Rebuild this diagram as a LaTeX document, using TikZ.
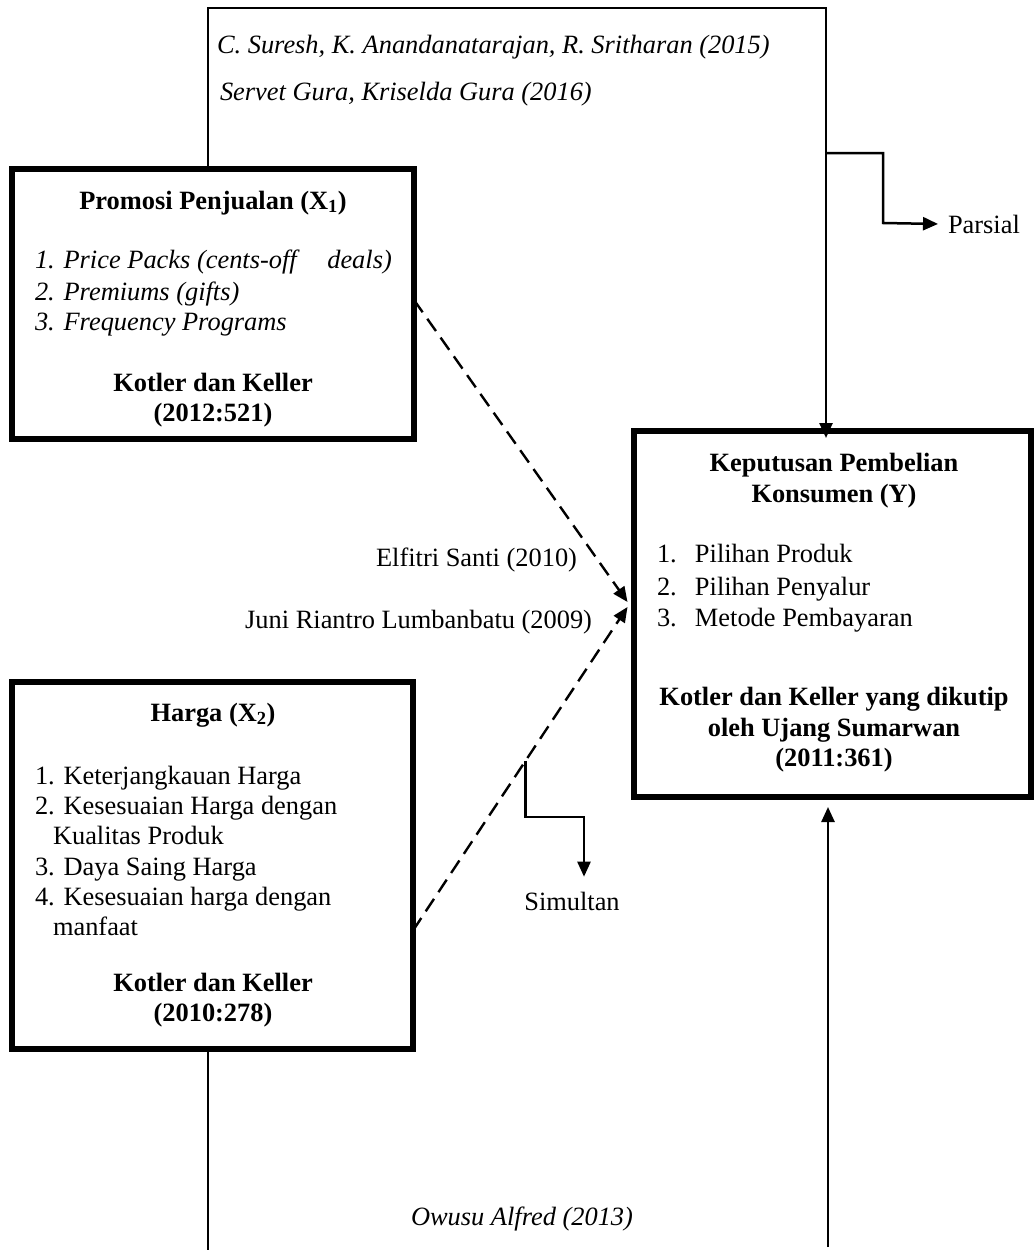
\documentclass[tikz,border=0pt]{standalone}
\usepackage{fontspec}
\setmainfont{Liberation Serif}
\usetikzlibrary{arrows.meta,calc}
\begin{document}
\begin{tikzpicture}[x=1pt,y=-1pt,
  every node/.style={font=\fontsize{26.4}{30}\selectfont, inner sep=0pt, outer sep=0pt},
  bigbox/.style={draw, line width=5.5pt, minimum width=#1},
  thinline/.style={line width=2.5pt},
  arr/.style={thinline, -{Triangle[length=15pt,width=13pt]}},
  dasharr/.style={line width=2.4pt, dash pattern=on 15pt off 8pt, -{Triangle[length=15pt,width=13pt]}},
  lbl/.style={anchor=base west},
  ctr/.style={anchor=base, font=\fontsize{26.4}{30}\selectfont\bfseries}
]
\useasboundingbox (0,0) rectangle (1035,1250);

% boxes
\node[bigbox=402pt, minimum height=270pt] (p) at (213,304) {};
\node[bigbox=401pt, minimum height=367pt] (h) at (212.5,865.5) {};
\node[bigbox=397pt, minimum height=366pt] (y) at (832.5,614) {};

% Promosi text
\node[ctr] (pt) at (213,209) {Promosi Penjualan (X\textsubscript{1})};
\node[lbl] (p1) at (35,268) {\itshape 1. Price Packs (cents-off\hspace{24pt} deals)};
\node[lbl] (p2) at (35,300) {\itshape 2. Premiums (gifts)};
\node[lbl] (p3) at (35,330) {\itshape 3. Frequency Programs};
\node[ctr] (pk1) at (213,391) {Kotler dan Keller};
\node[ctr] (pk2) at (213,421) {(2012:521)};

% Harga text
\node[ctr] (ht) at (213,721) {Harga (X\textsubscript{2})};
\node[lbl] (h1) at (35,784) {1. Keterjangkauan Harga};
\node[lbl] (h2) at (35,814) {2. Kesesuaian Harga dengan};
\node[lbl] (h2b) at (53,844) {Kualitas Produk};
\node[lbl] (h3) at (35,875) {3. Daya Saing Harga};
\node[lbl] (h4) at (35,905) {4. Kesesuaian harga dengan};
\node[lbl] (h4b) at (53,935) {manfaat};
\node[ctr] (hk1) at (213,991) {Kotler dan Keller};
\node[ctr] (hk2) at (213,1021) {(2010:278)};

% Y text
\node[ctr] (yt1) at (834,471) {Keputusan Pembelian};
\node[ctr] (yt2) at (834,502) {Konsumen (Y)};
\node[lbl] (y1) at (657,562) {\makebox[38pt][l]{1.}Pilihan Produk};
\node[lbl] (y2) at (657,595) {\makebox[38pt][l]{2.}Pilihan Penyalur};
\node[lbl] (y3) at (657,626) {\makebox[38pt][l]{3.}Metode Pembayaran};
\node[ctr] (yk1) at (834,705) {Kotler dan Keller yang dikutip};
\node[ctr] (yk2) at (834,736) {oleh Ujang Sumarwan};
\node[ctr] (yk3) at (834,766) {(2011:361)};

% citation labels
\node[lbl] (c1) at (217,53) {\itshape C. Suresh, K. Anandanatarajan, R. Sritharan (2015)};
\node[lbl] (c2) at (220,100) {\itshape Servet Gura, Kriselda Gura (2016)};
\node[anchor=base east] (c3) at (577,566) {Elfitri Santi (2010)};
\node[anchor=base east] (c4) at (592,628) {Juni Riantro Lumbanbatu (2009)};
\node[anchor=base] (c5) at (522,1225) {\itshape Owusu Alfred (2013)};
\node[lbl] (par) at (948,233) {Parsial};
\node[anchor=base] (sim) at (572,910) {Simultan};

% top frame (partial test)
\coordinate (tl) at (208,8);
\coordinate (tr) at (826,8);
\draw[arr] ([xshift=-5pt]p.north) -- (tl) -- (tr) -- ([xshift=-6.5pt,yshift=-7pt]y.north);
\coordinate (pb) at (826,153);
\draw[arr] (pb) -- (883,153) -- (883,223) -- ([xshift=-10pt]par.west);

% dashed arrows
\coordinate (ta) at ([xshift=-6.5pt,yshift=12pt]y.west);
\coordinate (tb) at ([xshift=-6.5pt,yshift=7pt]y.west);
\coordinate (hs) at ([yshift=-65pt]h.east);
\draw[dasharr] ([yshift=4pt]p.east) -- (ta);
\draw[dasharr] (hs) -- (tb);

% simultan branch
\path (hs) -- (tb) coordinate[pos=0.524] (sb);
\draw[arr] (sb) |- (584,817) -- ([xshift=12pt,yshift=15pt]sim.north);

% bottom lines (simultaneous frame)
\coordinate (bl) at (208,1250);
\coordinate (br) at (828,1247);
\draw[line width=1.8pt] ([xshift=-4.5pt]h.south) -- (bl);
\draw[arr] (br) -- ([xshift=-4.5pt,yshift=-10pt]y.south);
\end{tikzpicture}
\end{document}
